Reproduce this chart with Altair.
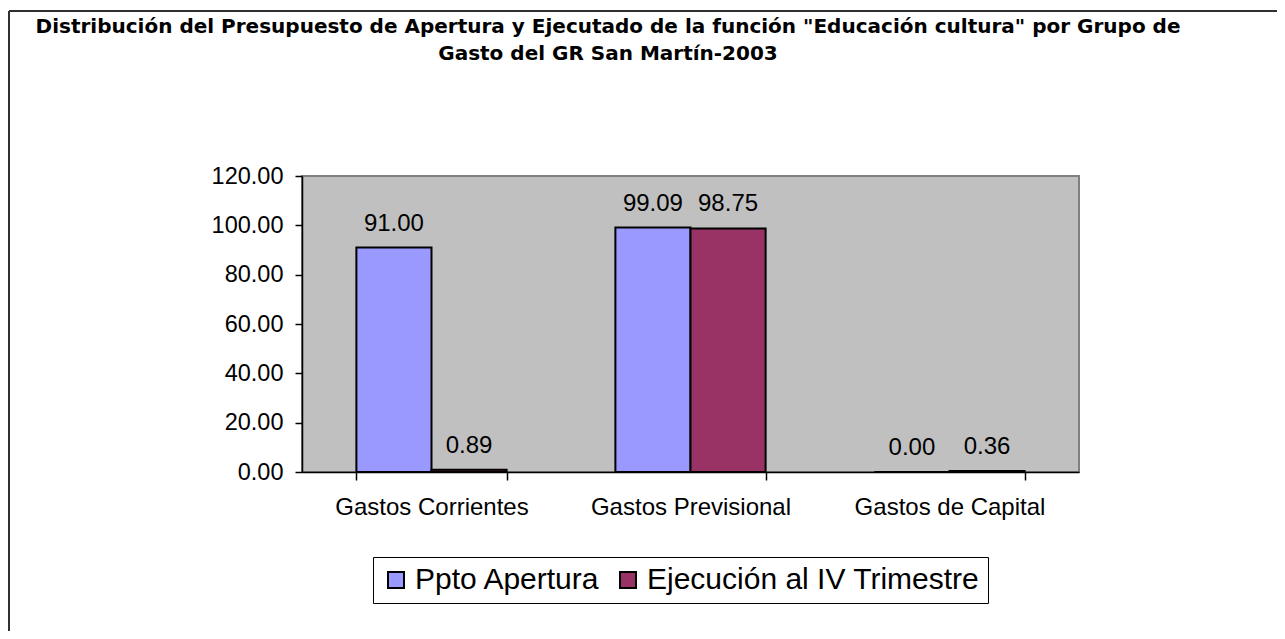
import altair as alt
import pandas as pd

categories = ["Gastos Corrientes", "Gastos Previsional", "Gastos de Capital"]
series = ["Ppto Apertura", "Ejecución al IV Trimestre"]
ppto_apertura = [91.00, 99.09, 0.00]
ejecucion_iv = [0.89, 98.75, 0.36]
y_ticks = [0, 20, 40, 60, 80, 100, 120]
title_lines = [
    'Distribución del Presupuesto de Apertura y Ejecutado de la función "Educación cultura" por Grupo de',
    'Gasto del GR San Martín-2003',
]
colors = ["#9999FF", "#993366"]

rows = []
for i, c in enumerate(categories):
    rows.append({"Grupo": c, "Serie": series[0], "Valor": ppto_apertura[i]})
    rows.append({"Grupo": c, "Serie": series[1], "Valor": ejecucion_iv[i]})
df = pd.DataFrame(rows)

FONT = "Liberation Sans"

x_enc = alt.X(
    "Grupo:N",
    sort=categories,
    scale=alt.Scale(paddingInner=0.42, paddingOuter=0.21),
    axis=alt.Axis(
        title=None, labelAngle=0, tickBand="extent", tickSize=8, tickColor="black",
        tickWidth=1.5, domainColor="black", domainWidth=1.5, labelFont=FONT,
        labelFontSize=24, labelColor="black", labelPadding=15, labelLimit=0,
    ),
)
xoff = alt.XOffset("Serie:N", sort=series)
y_enc = alt.Y(
    "Valor:Q",
    scale=alt.Scale(domain=[0, 120], nice=False),
    axis=alt.Axis(
        values=y_ticks, format=".2f", title=None, grid=False, tickSize=7,
        tickColor="black", tickWidth=1.5, domainColor="black", domainWidth=1.5,
        labelFont=FONT, labelFontSize=23.5, labelColor="black", labelPadding=12,
        labelLimit=0,
    ),
)

bars = alt.Chart(df).mark_bar(stroke="black", strokeWidth=2).encode(
    x=x_enc,
    xOffset=xoff,
    y=y_enc,
    color=alt.Color(
        "Serie:N",
        sort=series,
        scale=alt.Scale(domain=series, range=colors),
        legend=alt.Legend(
            orient="none", legendX=71, legendY=381, direction="horizontal", title=None,
            labelFont=FONT, labelFontSize=30, labelColor="black", symbolType="square",
            symbolSize=256, symbolStrokeColor="black", symbolStrokeWidth=2,
            strokeColor="black", fillColor="white", padding=8, columnPadding=12,
            labelOffset=4, labelLimit=0,
        ),
    ),
)

labels = alt.Chart(df).mark_text(
    baseline="alphabetic", dy=-17, fontSize=24, font=FONT, color="black"
).encode(
    x=alt.X("Grupo:N", sort=categories),
    xOffset=xoff,
    y="Valor:Q",
    text=alt.Text("Valor:Q", format=".2f"),
)

t1 = alt.Chart(pd.DataFrame({"t": [title_lines[0]]})).mark_text(
    font="DejaVu Sans", fontWeight="bold", fontSize=20, align="center", baseline="alphabetic", color="black"
).encode(text="t:N", x=alt.value(306), y=alt.value(-143))
t2 = alt.Chart(pd.DataFrame({"t": [title_lines[1]]})).mark_text(
    font="DejaVu Sans", fontWeight="bold", fontSize=20, align="center", baseline="alphabetic", color="black"
).encode(text="t:N", x=alt.value(306), y=alt.value(-116))

one = pd.DataFrame({"k": [0]})
border_top = alt.Chart(one).mark_rule(color="#303030", strokeWidth=2).encode(
    x=alt.value(-293), x2=alt.value(975), y=alt.value(-165)
)
border_left = alt.Chart(one).mark_rule(color="#303030", strokeWidth=2).encode(
    x=alt.value(-293), y=alt.value(-165), y2=alt.value(455)
)

chart = alt.layer(bars, labels, t1, t2, border_top, border_left).properties(
    width=777,
    height=296,
    autosize=alt.AutoSizeParams(type="none"),
    padding={"left": 294, "top": 168, "right": 198, "bottom": 159},
    background="white",
).configure_view(
    fill="#C0C0C0", stroke="#808080", strokeWidth=2
)

chart.save("out.html", embed_options={"renderer": "svg", "actions": False})
